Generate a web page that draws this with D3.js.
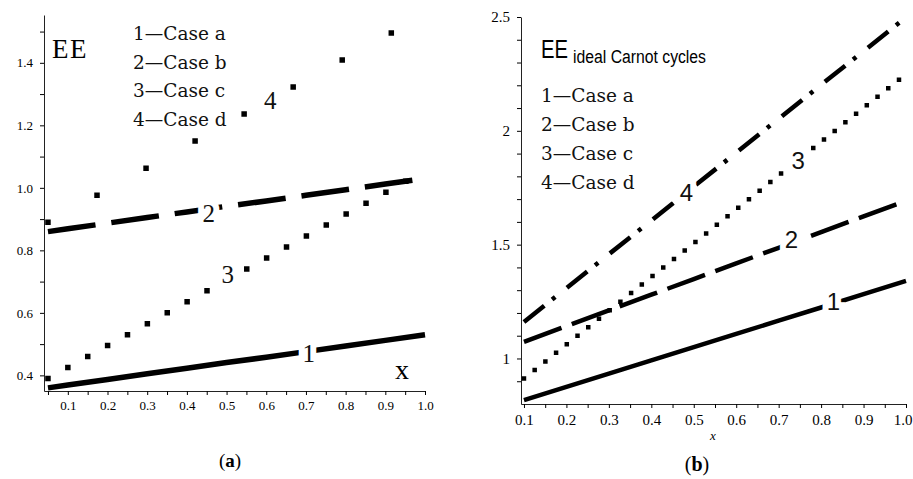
<!DOCTYPE html>
<html>
<head>
<meta charset="utf-8">
<script src="https://cdn.jsdelivr.net/npm/d3@7"></script>
<style>
  body { margin: 0; background: #fff; }
  svg { display: block; }
</style>
</head>
<body>
<svg width="913" height="479"></svg>
<script>
// panel (a)
var xA = [0.05, 0.1, 0.2, 0.3, 0.4, 0.5, 0.6, 0.7, 0.8, 0.9, 1.0];
var caseA_a = [0.36, 0.369, 0.387, 0.405, 0.423, 0.441, 0.458, 0.476, 0.494, 0.512, 0.53];
var caseB_a = [0.86, 0.869, 0.887, 0.905, 0.923, 0.941, 0.958, 0.976, 0.994, 1.012, 1.03];
var caseC_a = [0.39, 0.425, 0.495, 0.565, 0.635, 0.705, 0.775, 0.845, 0.915, 0.985, 1.055];
var caseD_a = [0.89, 0.925, 0.995, 1.065, 1.135, 1.205, 1.275, 1.345, 1.415, 1.485, 1.553];
var yTicksA = [0.4, 0.6, 0.8, 1.0, 1.2, 1.4];
var yMinorA = [0.5, 0.7, 0.9, 1.1, 1.3, 1.5];
var xTicksA = [0.1, 0.2, 0.3, 0.4, 0.5, 0.6, 0.7, 0.8, 0.9, 1.0];
var xMinorA = [0.05, 0.15, 0.25, 0.35, 0.45, 0.55, 0.65, 0.75, 0.85, 0.95];

// panel (b)
var xB = [0.1, 0.2, 0.3, 0.4, 0.5, 0.6, 0.7, 0.8, 0.9, 1.0];
var caseA_b = [0.817, 0.875, 0.933, 0.992, 1.05, 1.108, 1.166, 1.224, 1.283, 1.341];
var caseB_b = [1.073, 1.142, 1.211, 1.28, 1.349, 1.418, 1.486, 1.555, 1.624, 1.693];
var caseC_b = [0.912, 1.061, 1.209, 1.358, 1.506, 1.655, 1.804, 1.952, 2.101, 2.249];
var caseD_b = [1.16, 1.309, 1.458, 1.606, 1.755, 1.904, 2.053, 2.202, 2.35, 2.499];
var yTicksB = [1, 1.5, 2, 2.5];
var yMinorB = [0.9, 1.1, 1.2, 1.3, 1.4, 1.6, 1.7, 1.8, 1.9, 2.1, 2.2, 2.3, 2.4];
var xTicksB = [0.1, 0.2, 0.3, 0.4, 0.5, 0.6, 0.7, 0.8, 0.9, 1.0];
var xMinorB = [0.15, 0.25, 0.35, 0.45, 0.55, 0.65, 0.75, 0.85, 0.95];

var legend = ["1\u2014Case a", "2\u2014Case b", "3\u2014Case c", "4\u2014Case d"];

var svg = d3.select("svg");
var serif = "Liberation Serif, serif";
var sans = "Liberation Sans, Arial, sans-serif";

function panel(p) {
    var g = svg.append("g");
    var x = d3.scaleLinear().domain(p.xDomain).range([p.left, p.right]);
    var y = d3.scaleLinear().domain(p.yDomain).range([p.bottom, p.top]);

    g.append("clipPath").attr("id", "clip" + p.id)
        .append("rect").attr("x", p.left).attr("y", p.top - 4)
        .attr("width", p.right - p.left + 4).attr("height", p.bottom - p.top + 4);

    // axes
    var yAx = g.append("g").attr("transform", "translate(" + p.left + ",0)")
        .call(d3.axisLeft(y).tickValues(p.yTicks).tickSize(4).tickSizeOuter(0).tickFormat(p.yFmt));
    g.append("g").attr("transform", "translate(" + p.left + ",0)")
        .call(d3.axisLeft(y).tickValues(p.yMinor).tickSize(4).tickSizeOuter(0).tickFormat(""))
        .select(".domain").remove();
    var xAx = g.append("g").attr("transform", "translate(0," + p.bottom + ")")
        .call(d3.axisBottom(x).tickValues(p.xTicks).tickSize(4).tickSizeOuter(0).tickFormat(d3.format(".1f")));
    g.append("g").attr("transform", "translate(0," + p.bottom + ")")
        .call(d3.axisBottom(x).tickValues(p.xMinor).tickSize(4).tickSizeOuter(0).tickFormat(""))
        .select(".domain").remove();
    yAx.selectAll("text").attr("font-family", serif).attr("font-size", p.tickFont).attr("x", -11);
    xAx.selectAll("text").attr("font-family", serif).attr("font-size", p.tickFont).attr("y", 10);
    g.selectAll(".domain").attr("stroke", "#222");

    // series
    var line = d3.line().x(function(d) { return x(d[0]); }).y(function(d) { return y(d[1]); });
    var lines = g.append("g").attr("clip-path", "url(#clip" + p.id + ")");
    p.series.forEach(function(s) {
        lines.append("path")
            .datum(p.xs.map(function(v, i) { return [v, s.values[i]]; }))
            .attr("d", line)
            .attr("fill", "none")
            .attr("stroke", "#000")
            .attr("stroke-width", s.width)
            .attr("stroke-dasharray", s.dash)
            .attr("stroke-linecap", s.cap || "butt");
    });

    // curve labels
    p.series.forEach(function(s) {
        g.append("text")
            .attr("x", x(s.lx)).attr("y", y(s.ly))
            .attr("text-anchor", "middle").attr("dy", "0.35em")
            .attr("font-family", p.labelFont).attr("font-size", p.labelSize)
            .attr("stroke", "#fff").attr("stroke-width", 12).attr("paint-order", "stroke")
            .attr("fill", "#111")
            .text(s.label);
    });

    // legend
    g.selectAll(".leg").data(legend).enter().append("text")
        .attr("x", p.legX).attr("y", function(d, i) { return p.legY + i * p.legStep; })
        .attr("font-family", "DejaVu Serif, serif").attr("font-size", 18.5)
        .attr("fill", "#111")
        .text(function(d) { return d; });

    return { g: g, x: x, y: y, xAx: xAx };
}

var a = panel({
    id: "a", left: 44, right: 425, top: 15, bottom: 391,
    xDomain: [0.04, 1.0], yDomain: [0.35, 1.553],
    yTicks: yTicksA, yMinor: yMinorA, xTicks: xTicksA, xMinor: xMinorA,
    yFmt: d3.format(".1f"), tickFont: 13, xs: xA,
    labelFont: serif, labelSize: 25,
    legX: 133, legY: 40, legStep: 28.5,
    series: [
        { values: caseA_a, width: 5.5, dash: null, label: "1", lx: 0.707, ly: 0.47 },
        { values: caseB_a, width: 5.5, dash: "48,16", label: "2", lx: 0.455, ly: 0.92 },
        { values: caseC_a, width: 5.5, dash: "0,22.7", cap: "square", label: "3", lx: 0.503, ly: 0.725 },
        { values: caseD_a, width: 5.5, dash: "0,56", cap: "square", label: "4", lx: 0.61, ly: 1.28 }
    ]
});
a.g.append("text").attr("x", 52).attr("y", 58)
    .attr("font-family", serif).attr("font-size", 27).attr("letter-spacing", 1.5).text("EE");
a.g.append("text").attr("x", 395).attr("y", 379)
    .attr("font-family", serif).attr("font-size", 28).text("x");
a.g.append("text").attr("x", 230).attr("y", 467).attr("text-anchor", "middle")
    .attr("font-family", serif).attr("font-size", 19)
    .html('(<tspan font-weight="bold">a</tspan>)');

var b = panel({
    id: "b", left: 521, right: 906, top: 17, bottom: 404,
    xDomain: [0.093, 1.0], yDomain: [0.8, 2.5],
    yTicks: yTicksB, yMinor: yMinorB, xTicks: xTicksB, xMinor: xMinorB,
    yFmt: d3.format(""), tickFont: 15, xs: xB,
    labelFont: sans, labelSize: 24,
    legX: 541, legY: 102, legStep: 29,
    series: [
        { values: caseA_b, width: 4.5, dash: null, label: "1", lx: 0.829, ly: 1.25 },
        { values: caseB_b, width: 4.5, dash: "40,11", label: "2", lx: 0.73, ly: 1.52 },
        { values: caseC_b, width: 4.5, dash: "0,13.7", cap: "square", label: "3", lx: 0.746, ly: 1.87 },
        { values: caseD_b, width: 4.5, dash: "26,10,4,15", label: "4", lx: 0.483, ly: 1.73 }
    ]
});
// last x label of (b) sits against the right edge
b.xAx.selectAll(".tick:last-of-type text").attr("text-anchor", "end").attr("x", 6);

b.g.append("text").attr("x", 541).attr("y", 58)
    .attr("font-family", sans).attr("font-size", 25)
    .attr("textLength", 27).attr("lengthAdjust", "spacingAndGlyphs").text("EE");
b.g.append("text").attr("x", 573).attr("y", 63)
    .attr("font-family", sans).attr("font-size", 18)
    .attr("textLength", 133).attr("lengthAdjust", "spacingAndGlyphs").text("ideal Carnot cycles");
b.g.append("text").attr("x", 713).attr("y", 440).attr("text-anchor", "middle")
    .attr("font-family", serif).attr("font-style", "italic").attr("font-size", 13).text("x");
b.g.append("text").attr("x", 697).attr("y", 471).attr("text-anchor", "middle")
    .attr("font-family", serif).attr("font-size", 20)
    .html('(<tspan font-weight="bold">b</tspan>)');
</script>
</body>
</html>
